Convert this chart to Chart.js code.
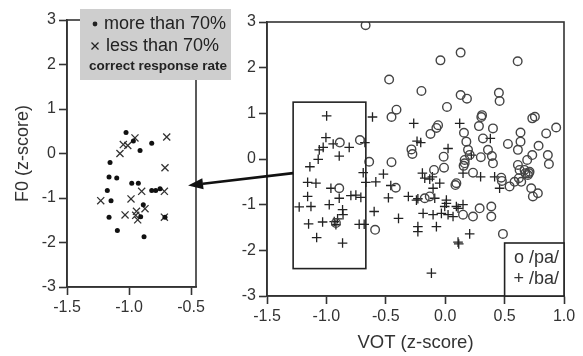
<!DOCTYPE html>
<html>
<head>
<meta charset="utf-8">
<script src="https://cdn.jsdelivr.net/npm/chart.js@4/dist/chart.umd.min.js"></script>
<style>
    html, body { margin: 0; padding: 0; background: #fff; }
    #wrap { position: relative; width: 583px; height: 356px; }
    #wrap canvas { position: absolute; left: 0; top: 0; }
</style>
</head>
<body>
<div id="wrap">
    <canvas id="leftChart" width="583" height="356"></canvas>
    <canvas id="rightChart" width="583" height="356"></canvas>
</div>
<script>
// Ticks
const yTicks = [-3, -2, -1, 0, 1, 2, 3];
const xTicksLeft = [-1.5, -1.0, -0.5];
const xTicksRight = [-1.5, -1.0, -0.5, 0.0, 0.5, 1.0];

// Left panel: tokens inside the box, split by correct response rate
const moreThan70 = [
    [-1.024, 0.47], [-0.965, 0.28], [-0.817, 0.23], [-0.911, 0.07], [-1.153, -0.2],
    [-1.161, -0.53], [-1.099, -0.55], [-0.978, -0.67], [-0.925, -0.67], [-0.817, -0.83],
    [-0.785, -0.83], [-0.75, -0.79], [-1.175, -0.83], [-1.145, -1.06], [-0.885, -1.15],
    [-1.161, -1.43], [-0.906, -1.42], [-0.71, -1.43], [-1.094, -1.73], [-0.879, -1.87]
];
const lessThan70 = [
    [-0.952, 0.35], [-0.696, 0.37], [-1.046, 0.2], [-1.01, 0.18], [-1.073, 0.0],
    [-0.71, -0.32], [-0.898, -0.85], [-0.715, -0.85], [-1.228, -1.06], [-0.984, -1.02],
    [-0.871, -1.24], [-1.032, -1.38], [-0.946, -1.39], [-0.93, -1.49], [-0.94, -1.3],
    [-0.715, -1.43]
];

// Right panel: all tokens
const paTokens = [
    [-0.67, 2.93], [-0.472, 1.74], [-0.2, 1.49], [-0.04, 2.16], [0.13, 2.33], [0.61, 2.14],
    [-0.452, 0.92], [-0.41, 1.08], [0.015, 1.14], [0.13, 1.4], [0.183, 1.32], [0.452, 1.45],
    [0.458, 1.27], [-0.06, 0.74], [-0.074, 0.68], [-0.124, 0.55], [0.304, 0.92], [0.31, 0.96],
    [0.284, 0.72], [0.402, 0.67], [0.158, 0.575], [0.733, 0.89], [0.755, 0.925], [0.934, 0.69],
    [0.85, 0.56], [0.634, 0.58], [0.634, 0.38], [0.612, 0.2], [0.318, 0.45], [0.178, 0.38],
    [0.192, 0.2], [0.206, 0.09], [0.36, 0.2], [0.528, 0.33], [0.786, 0.29], [0.733, 0.087],
    [0.69, -0.02], [0.864, 0.087], [0.873, -0.11], [0.393, 0.065], [0.402, -0.095],
    [-0.284, 0.21], [-0.276, 0.11], [-0.013, 0.05], [-0.452, -0.07], [-0.64, -0.06],
    [-0.718, 0.415], [-0.887, 0.36], [0.164, -0.095], [0.155, -0.15], [0.164, -0.02],
    [-0.094, -0.24], [-0.01, -0.19], [0.234, -0.3], [0.3, 0.04], [0.472, -0.41], [0.62, -0.42],
    [0.676, -0.31], [0.704, -0.31], [0.612, -0.13], [0.626, -0.24], [0.668, -0.24],
    [0.696, -0.35], [0.477, -0.48], [0.542, -0.6], [0.584, -0.5], [0.64, -0.5], [0.71, -0.28],
    [0.724, -0.64], [0.78, -0.75], [0.738, -0.82], [0.086, -0.57], [0.094, -0.53],
    [-0.172, -0.86], [-0.13, -0.82], [0.15, -1.22], [0.234, -1.26], [0.29, -1.08],
    [0.388, -1.04], [0.388, -1.26], [0.486, -1.64], [-0.892, -0.64], [-0.92, -1.4],
    [-0.416, -0.63], [-0.59, -1.55]
];
const baTokens = [
    [-0.998, 0.945], [-0.612, 0.92], [-0.265, 0.78], [0.122, 0.78], [-0.237, 0.39],
    [-0.206, 0.36], [0.024, 0.23], [0.38, 0.45], [-0.676, 0.36], [-0.943, 0.33],
    [-0.892, 0.065], [-1.027, 0.255], [-1.06, 0.2], [-1.069, -0.007], [-1.139, -0.17],
    [-1.004, 0.47], [-0.808, 0.255], [0.22, 0.087], [-0.52, -0.33], [-0.69, -0.3],
    [0.15, -0.31], [-0.192, -0.31], [-0.108, -0.39], [0.298, -0.39], [0.416, -0.39],
    [-1.158, -0.51], [-1.088, -0.53], [-0.962, -0.64], [-0.892, -0.86], [-0.794, -0.8],
    [-0.752, -0.79], [-0.71, -0.84], [-1.158, -0.82], [-1.229, -1.05], [-1.13, -1.04],
    [-0.976, -1.0], [-0.864, -1.11], [-0.86, -1.22], [-1.15, -1.42], [-1.032, -1.38],
    [-0.934, -1.37], [-0.906, -1.31], [-0.92, -1.44], [-0.724, -1.43], [-0.682, -1.43],
    [-1.082, -1.72], [-0.864, -1.84], [-0.668, -0.51], [-0.584, -0.5], [-0.458, -0.58],
    [-0.478, -0.85], [-0.31, -0.82], [-0.598, -1.15], [-0.393, -1.3], [-0.242, -0.9],
    [-0.172, -0.42], [-0.046, -0.53], [-0.102, -0.64], [-0.13, -0.44], [0.458, -0.64],
    [-0.23, -0.87], [-0.088, -0.86], [0.01, -0.9], [0.01, -0.97], [-0.004, -1.04],
    [0.094, -1.04], [0.15, -1.0], [0.108, -1.08], [-0.186, -1.19], [-0.102, -1.22],
    [-0.032, -1.19], [0.024, -1.22], [0.066, -1.26], [-0.23, -1.48], [-0.23, -1.59],
    [-0.074, -1.48], [0.206, -1.64], [0.108, -1.82], [0.114, -1.86], [-0.116, -2.5]
];

// Selection box and arrow, in data units
const selection = { x0: -1.28, x1: -0.668, y0: -2.4, y1: 1.245 };
const arrowFrom = { y: -0.31 };
const arrowTo = { x: -0.524, y: -0.72 };

const FONT = "'Liberation Sans', Arial, sans-serif";
const INK = '#333';

const toPoints = arr => arr.map(p => ({ x: p[0], y: p[1] }));

function axis(min, max, tickVals, fmt, fitSize, horizontal) {
    return {
        type: 'linear',
        min: min,
        max: max,
        afterBuildTicks: s => { s.ticks = tickVals.map(v => ({ value: v })); },
        afterFit: s => { if (horizontal) s.height = fitSize; else s.width = fitSize; },
        grid: { drawOnChartArea: false, drawTicks: true, tickLength: 8, tickColor: INK, tickWidth: 1.6 },
        border: { display: true, color: INK, width: 1.6 },
        ticks: { color: INK, font: { family: FONT, size: 16 }, padding: 3, autoSkip: false, maxRotation: 0, callback: fmt }
    };
}

const fmt1 = v => Number(v).toFixed(1);
const fmt0 = v => String(v);

// Frame around plot area
const frame = {
    id: 'frame',
    afterDraw(chart) {
        const { ctx, chartArea: a } = chart;
        ctx.save();
        ctx.strokeStyle = INK;
        ctx.lineWidth = 1.6;
        ctx.strokeRect(a.left, a.top, a.right - a.left, a.bottom - a.top);
        ctx.restore();
    }
};

// Legend of left panel (grey box)
const leftLegend = {
    id: 'leftLegend',
    afterDraw(chart) {
        const ctx = chart.ctx;
        ctx.save();
        ctx.fillStyle = '#cecece';
        ctx.fillRect(80, 9, 151, 71);
        ctx.fillStyle = '#222';
        ctx.textBaseline = 'middle';
        ctx.textAlign = 'left';
        ctx.font = '18px ' + FONT;
        ctx.beginPath();
        ctx.arc(95, 24, 2.4, 0, Math.PI * 2);
        ctx.fill();
        ctx.fillText('more than 70%', 104, 24);
        ctx.fillText('less than 70%', 106, 46);
        ctx.strokeStyle = '#222';
        ctx.lineWidth = 1.3;
        ctx.beginPath();
        ctx.moveTo(91.5, 42.5); ctx.lineTo(98.5, 49.5);
        ctx.moveTo(98.5, 42.5); ctx.lineTo(91.5, 49.5);
        ctx.stroke();
        ctx.font = 'bold 13.5px ' + FONT;
        ctx.fillText('correct response rate', 89, 66);
        ctx.restore();
    }
};

const leftChart = new Chart(document.getElementById('leftChart'), {
    type: 'scatter',
    data: {
        datasets: [
            {
                label: 'more than 70%',
                data: toPoints(moreThan70),
                pointStyle: 'circle',
                pointRadius: 2.5,
                backgroundColor: '#111',
                borderWidth: 0
            },
            {
                label: 'less than 70%',
                data: toPoints(lessThan70),
                pointStyle: 'crossRot',
                pointRadius: 5,
                borderColor: '#333',
                backgroundColor: 'transparent',
                borderWidth: 1.3
            }
        ]
    },
    options: {
        responsive: false,
        animation: false,
        layout: { padding: { left: 0, right: 387, top: 20, bottom: 0 } },
        plugins: { legend: { display: false }, tooltip: { enabled: false } },
        scales: {
            x: axis(-1.5, -0.46, xTicksLeft, fmt1, 69, true),
            y: Object.assign(axis(-3, 3, yTicks, fmt0, 67, false), {
                title: { display: true, text: 'F0 (z-score)', color: INK, font: { family: FONT, size: 18 }, padding: { top: 12, bottom: 0 } }
            })
        }
    },
    plugins: [frame, leftLegend]
});

// Selection box, arrow and legend of right panel
const rightExtras = {
    id: 'rightExtras',
    afterDraw(chart) {
        const { ctx, scales: { x, y }, chartArea: a } = chart;
        ctx.save();
        ctx.strokeStyle = '#222';
        ctx.lineWidth = 1.6;
        const bx0 = x.getPixelForValue(selection.x0), bx1 = x.getPixelForValue(selection.x1);
        const by0 = y.getPixelForValue(selection.y1), by1 = y.getPixelForValue(selection.y0);
        ctx.strokeRect(bx0, by0, bx1 - bx0, by1 - by0);

        // arrow into the left panel
        const sx = bx0, sy = y.getPixelForValue(arrowFrom.y);
        const tx = leftChart.scales.x.getPixelForValue(arrowTo.x);
        const ty = leftChart.scales.y.getPixelForValue(arrowTo.y);
        const ang = Math.atan2(ty - sy, tx - sx);
        const headLen = 15, headW = 5.5;
        const hx = tx - headLen * Math.cos(ang), hy = ty - headLen * Math.sin(ang);
        ctx.lineWidth = 2.6;
        ctx.strokeStyle = '#111';
        ctx.beginPath();
        ctx.moveTo(sx, sy);
        ctx.lineTo(hx, hy);
        ctx.stroke();
        ctx.fillStyle = '#111';
        ctx.beginPath();
        ctx.moveTo(tx, ty);
        ctx.lineTo(hx + headW * Math.sin(ang), hy - headW * Math.cos(ang));
        ctx.lineTo(hx - headW * Math.sin(ang), hy + headW * Math.cos(ang));
        ctx.closePath();
        ctx.fill();

        // legend box
        const lx0 = x.getPixelForValue(0.5);
        ctx.fillStyle = '#fff';
        ctx.fillRect(lx0, a.bottom - 53, a.right - lx0, 53);
        ctx.lineWidth = 1.6;
        ctx.strokeStyle = '#222';
        ctx.strokeRect(lx0, a.bottom - 53, a.right - lx0, 53);
        ctx.fillStyle = '#333';
        ctx.font = '18px ' + FONT;
        ctx.textAlign = 'right';
        ctx.textBaseline = 'middle';
        ctx.fillText('o /pa/', a.right - 5, a.bottom - 38);
        ctx.fillText('+ /ba/', a.right - 5, a.bottom - 17);
        ctx.restore();
    }
};

const rightChart = new Chart(document.getElementById('rightChart'), {
    type: 'scatter',
    data: {
        datasets: [
            {
                label: '/pa/',
                data: toPoints(paTokens),
                pointStyle: 'circle',
                pointRadius: 4.3,
                borderColor: '#444',
                backgroundColor: 'transparent',
                borderWidth: 1.4
            },
            {
                label: '/ba/',
                data: toPoints(baTokens),
                pointStyle: 'cross',
                pointRadius: 4.8,
                borderColor: '#222',
                backgroundColor: 'transparent',
                borderWidth: 1.3
            }
        ]
    },
    options: {
        responsive: false,
        animation: false,
        layout: { padding: { left: 0, right: 19, top: 22, bottom: 0 } },
        plugins: { legend: { display: false }, tooltip: { enabled: false } },
        scales: {
            x: Object.assign(axis(-1.5, 1.0, xTicksRight, fmt1, 60, true), {
                title: { display: true, text: 'VOT (z-score)', color: INK, font: { family: FONT, size: 18.5 }, padding: { top: 0, bottom: 2 } }
            }),
            y: axis(-3, 3, yTicks, fmt0, 267, false)
        }
    },
    plugins: [frame, rightExtras]
});
</script>
</body>
</html>
